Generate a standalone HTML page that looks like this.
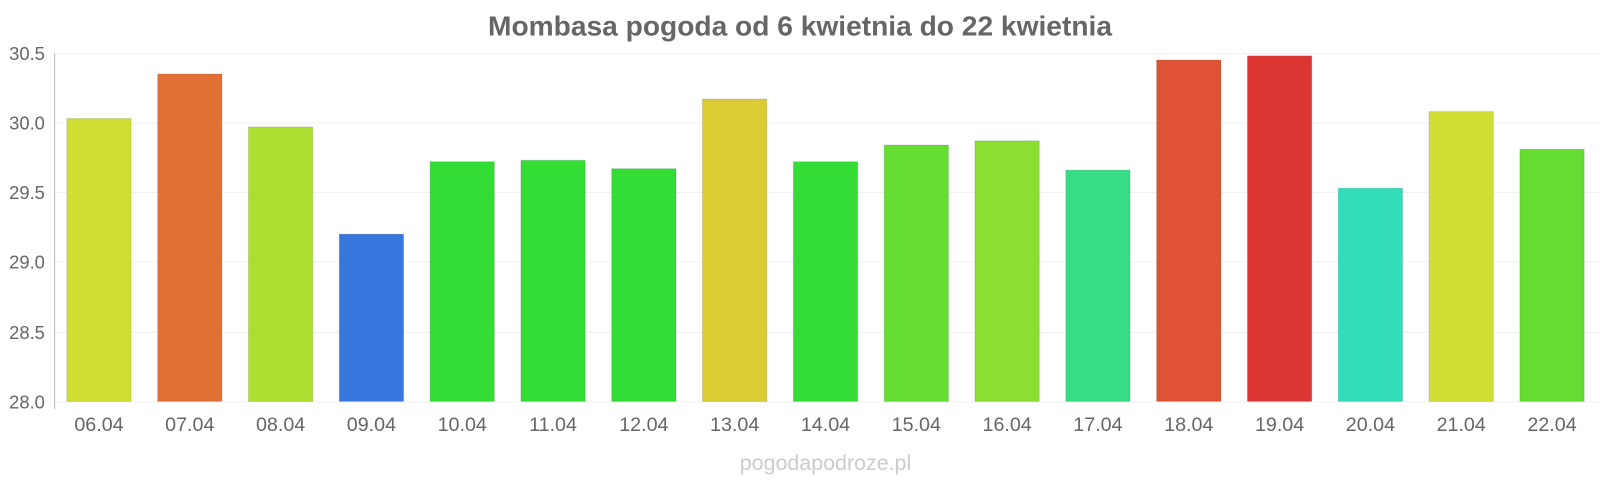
<!DOCTYPE html><html><head><style>body{margin:0;background:#fff}svg{display:block}text{font-family:"Liberation Sans",sans-serif}</style></head><body>
<svg width="1600" height="480" xmlns="http://www.w3.org/2000/svg">
<g transform="scale(1.0204,1.0213)">
<text x="784" y="35" text-anchor="middle" font-size="27.6" font-weight="bold" fill="#666">Mombasa pogoda od 6 kwietnia do 22 kwietnia</text>
<g stroke="#f0f0f0" stroke-width="1">
<line x1="53" x2="1568" y1="52.5" y2="52.5"/><line x1="53" x2="1568" y1="120.5" y2="120.5"/><line x1="53" x2="1568" y1="188.5" y2="188.5"/><line x1="53" x2="1568" y1="256.5" y2="256.5"/><line x1="53" x2="1568" y1="325.5" y2="325.5"/><line x1="53" x2="1568" y1="393.5" y2="393.5"/>
</g>
<line x1="53.5" x2="53.5" y1="52" y2="401" stroke="#bbb"/>
<g font-size="18" fill="#666" text-anchor="end">
<text x="44" y="59">30.5</text><text x="44" y="127">30.0</text><text x="44" y="195">29.5</text><text x="44" y="263">29.0</text><text x="44" y="332">28.5</text><text x="44" y="400">28.0</text>
</g>
<g stroke="rgba(0,0,0,0.12)" stroke-width="1">
<rect x="65.5" y="116.1" width="63" height="276.9" fill="#d0df33"/>
<rect x="154.5" y="72.5" width="63" height="320.5" fill="#e07034"/>
<rect x="243.5" y="124.3" width="63" height="268.7" fill="#addf33"/>
<rect x="332.5" y="229.3" width="63" height="163.7" fill="#3677dd"/>
<rect x="421.5" y="158.4" width="63" height="234.6" fill="#33dd36"/>
<rect x="510.5" y="157" width="63" height="236" fill="#33dd36"/>
<rect x="599.5" y="165.2" width="63" height="227.8" fill="#33dd36"/>
<rect x="688.5" y="97" width="63" height="296" fill="#dccc33"/>
<rect x="777.5" y="158.4" width="63" height="234.6" fill="#33dd36"/>
<rect x="866.5" y="142" width="63" height="251" fill="#66dd33"/>
<rect x="955.5" y="137.9" width="63" height="255.1" fill="#8bdf33"/>
<rect x="1044.5" y="166.6" width="63" height="226.4" fill="#36dd85"/>
<rect x="1133.5" y="58.8" width="63" height="334.2" fill="#df5233"/>
<rect x="1222.5" y="54.7" width="63" height="338.3" fill="#dd3434"/>
<rect x="1311.5" y="184.3" width="63" height="208.7" fill="#33ddbb"/>
<rect x="1400.5" y="109.3" width="63" height="283.7" fill="#d0df33"/>
<rect x="1489.5" y="146.1" width="63" height="246.9" fill="#66dd33"/>
</g>
<g font-size="19.3" fill="#666" text-anchor="middle">
<text x="97" y="422">06.04</text><text x="186" y="422">07.04</text><text x="275" y="422">08.04</text><text x="364" y="422">09.04</text><text x="453" y="422">10.04</text><text x="542" y="422">11.04</text><text x="631" y="422">12.04</text><text x="720" y="422">13.04</text><text x="809" y="422">14.04</text><text x="898" y="422">15.04</text><text x="987" y="422">16.04</text><text x="1076" y="422">17.04</text><text x="1165" y="422">18.04</text><text x="1254" y="422">19.04</text><text x="1343" y="422">20.04</text><text x="1432" y="422">21.04</text><text x="1521" y="422">22.04</text>
</g>
<text x="809" y="460" text-anchor="middle" font-size="21" fill="#ccc">pogodapodroze.pl</text>
</g>
</svg></body></html>
